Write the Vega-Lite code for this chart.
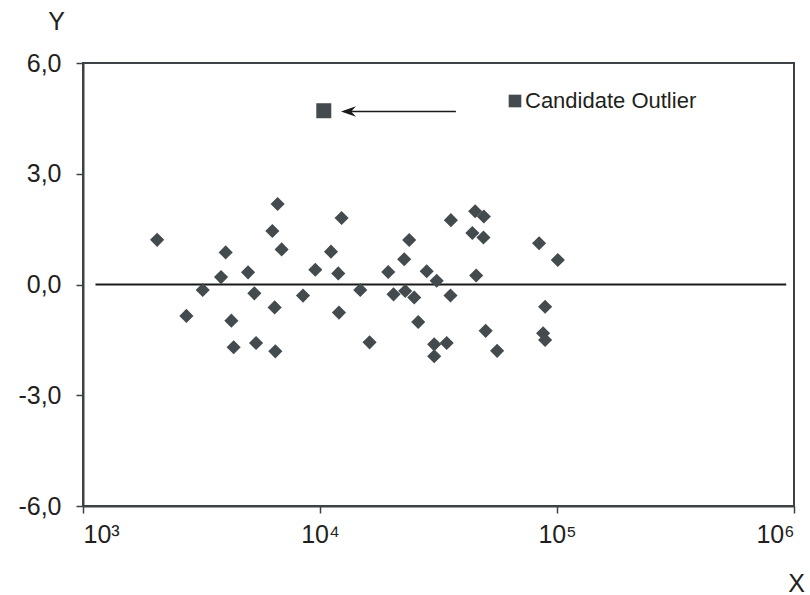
{
  "$schema": "https://vega.github.io/schema/vega-lite/v6.json",
  "autosize": "none",
  "width": 711,
  "height": 443,
  "padding": {"left": 83, "top": 63, "right": 16, "bottom": 89},
  "background": "white",
  "config": {
    "font": "Liberation Sans",
    "view": {"stroke": "#3c4245", "strokeWidth": 2},
    "axis": {
      "grid": false,
      "domainColor": "#3c4245",
      "domainWidth": 2,
      "tickColor": "#3c4245",
      "tickWidth": 1.5,
      "tickSize": 7,
      "labelFont": "Liberation Sans",
      "labelFontSize": 25,
      "labelColor": "#231f20",
      "titleFont": "Liberation Sans",
      "titleFontSize": 25,
      "titleFontWeight": "normal",
      "titleColor": "#231f20"
    }
  },
  "datasets": {
    "residuals": [
      {"x": 2055, "y": 1.21}, {"x": 6625, "y": 2.18}, {"x": 12335, "y": 1.8}, {"x": 6294, "y": 1.45},
      {"x": 6889, "y": 0.95}, {"x": 3999, "y": 0.87}, {"x": 11127, "y": 0.89}, {"x": 9554, "y": 0.4},
      {"x": 11943, "y": 0.3}, {"x": 4971, "y": 0.33}, {"x": 3824, "y": 0.2}, {"x": 3200, "y": -0.15},
      {"x": 5285, "y": -0.24}, {"x": 8479, "y": -0.3}, {"x": 14788, "y": -0.15}, {"x": 2731, "y": -0.85},
      {"x": 6437, "y": -0.62}, {"x": 4227, "y": -0.98}, {"x": 12025, "y": -0.76}, {"x": 4322, "y": -1.7},
      {"x": 5374, "y": -1.585}, {"x": 6480, "y": -1.81}, {"x": 16189, "y": -1.566}, {"x": 19405, "y": 0.34},
      {"x": 23791, "y": 1.206}, {"x": 22664, "y": 0.683}, {"x": 20431, "y": -0.266}, {"x": 22884, "y": -0.176},
      {"x": 24979, "y": -0.352}, {"x": 28200, "y": 0.358}, {"x": 31071, "y": 0.103}, {"x": 25968, "y": -1.016},
      {"x": 35532, "y": -0.298}, {"x": 30330, "y": -1.62}, {"x": 34244, "y": -1.585}, {"x": 30330, "y": -1.943},
      {"x": 35669, "y": 1.743}, {"x": 45153, "y": 1.984}, {"x": 49132, "y": 1.843}, {"x": 43942, "y": 1.396},
      {"x": 48942, "y": 1.274}, {"x": 45598, "y": 0.244}, {"x": 50004, "y": -1.255}, {"x": 55897, "y": -1.797},
      {"x": 84032, "y": 1.117}, {"x": 100790, "y": 0.664}, {"x": 89090, "y": -0.604}, {"x": 87380, "y": -1.322},
      {"x": 89090, "y": -1.504}
    ],
    "outlier": [{"x": 10375, "y": 4.707, "series": "Candidate Outlier"}],
    "zeroline": [{"x": 1129, "x2": 927000, "y": 0}],
    "arrowline": [{"x": 12700, "x2": 37446, "y": 4.683}],
    "arrowhead": [{"x": 13190, "y": 4.683}]
  },
  "layer": [
    {
      "data": {"name": "zeroline"},
      "mark": {"type": "rule", "color": "#1a1a1a", "strokeWidth": 2},
      "encoding": {
        "x": {
          "field": "x", "type": "quantitative",
          "scale": {"type": "log", "domain": [1000, 1000000], "nice": false},
          "axis": {
            "title": "X",
            "values": [1000, 10000, 100000, 1000000],
            "labelExpr": "datum.value == 1000 ? '10³' : datum.value == 10000 ? '10⁴' : datum.value == 100000 ? '10⁵' : '10⁶'",
            "labelPadding": 9,
            "titleAngle": 0,
            "titleX": 713,
            "titleY": 85,
            "titleAlign": "center",
            "titleBaseline": "alphabetic"
          }
        },
        "x2": {"field": "x2"},
        "y": {
          "field": "y", "type": "quantitative",
          "scale": {"domain": [-6, 6], "nice": false, "zero": false},
          "axis": {
            "title": "Y",
            "values": [-6, -3, 0, 3, 6],
            "labelExpr": "replace(replace(format(datum.value, '.1f'), '.', ','), '−', '-')",
            "labelPadding": 15,
            "titleAngle": 0,
            "titleX": -27,
            "titleY": -34,
            "titleAlign": "center",
            "titleBaseline": "alphabetic"
          }
        }
      }
    },
    {
      "data": {"name": "residuals"},
      "mark": {"type": "point", "shape": "diamond", "filled": true, "size": 200, "color": "#434b4e", "opacity": 1},
      "encoding": {
        "x": {"field": "x", "type": "quantitative"},
        "y": {"field": "y", "type": "quantitative"}
      }
    },
    {
      "data": {"name": "outlier"},
      "mark": {"type": "point", "shape": "square", "filled": true, "size": 225, "opacity": 1},
      "encoding": {
        "x": {"field": "x", "type": "quantitative"},
        "y": {"field": "y", "type": "quantitative"},
        "color": {
          "field": "series", "type": "nominal",
          "scale": {"range": ["#434b4e"]},
          "legend": {
            "title": null,
            "orient": "none",
            "legendX": 421,
            "legendY": 27,
            "padding": 0,
            "symbolType": "square",
            "symbolSize": 160,
            "symbolOpacity": 1,
            "labelFont": "Liberation Sans",
            "labelFontSize": 22,
            "labelColor": "#231f20",
            "labelOffset": -1,
            "labelLimit": 0
          }
        }
      }
    },
    {
      "data": {"name": "arrowline"},
      "mark": {"type": "rule", "color": "#1a1a1a", "strokeWidth": 1.5},
      "encoding": {
        "x": {"field": "x", "type": "quantitative"},
        "x2": {"field": "x2"},
        "y": {"field": "y", "type": "quantitative"}
      }
    },
    {
      "data": {"name": "arrowhead"},
      "mark": {"type": "point", "shape": "M -1 0 L 1 -0.7 L 0.35 0 L 1 0.7 Z", "filled": true, "size": 225, "color": "#1a1a1a", "opacity": 1},
      "encoding": {
        "x": {"field": "x", "type": "quantitative"},
        "y": {"field": "y", "type": "quantitative"}
      }
    }
  ]
}
